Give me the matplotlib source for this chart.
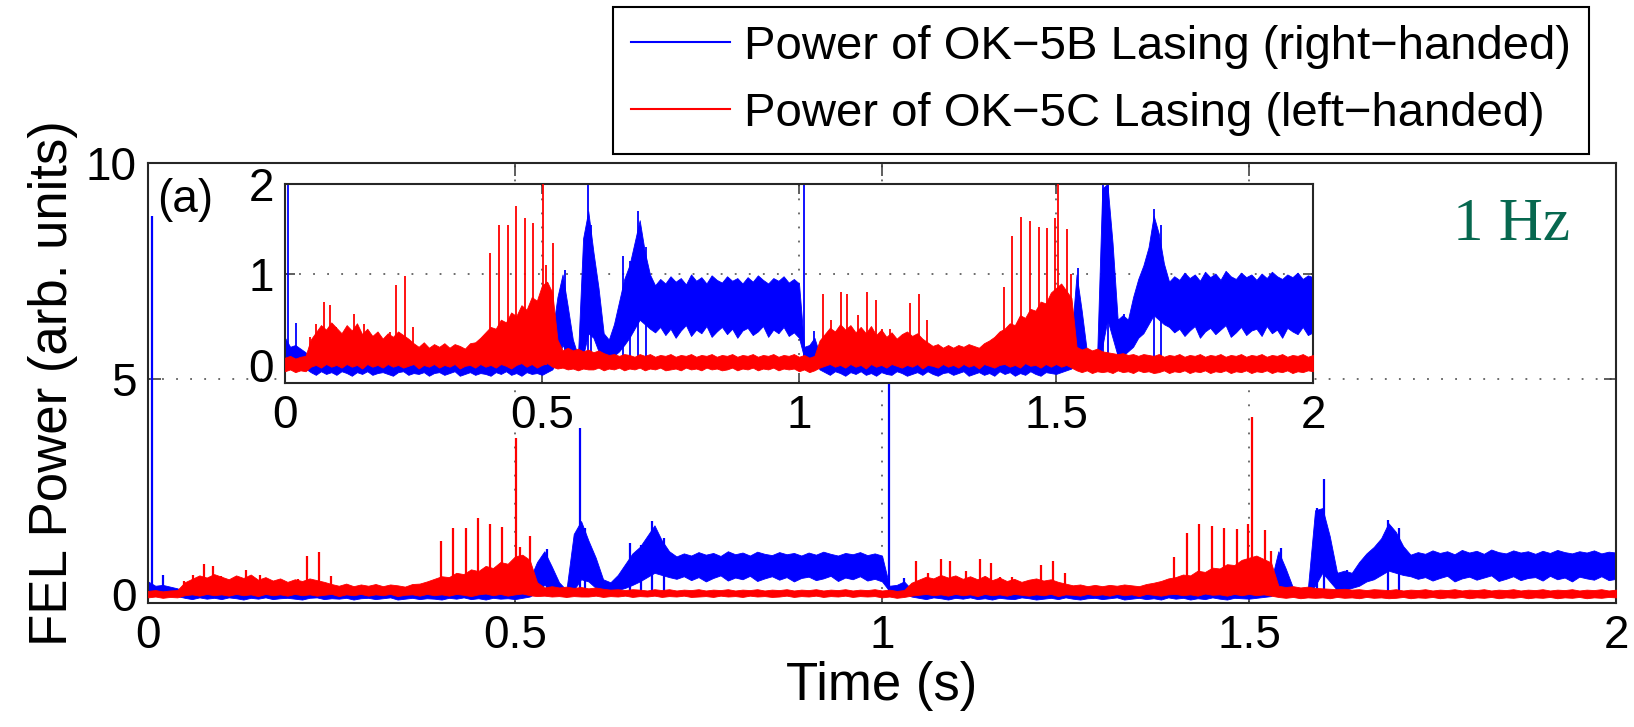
import matplotlib.pyplot as plt
import numpy as np
from matplotlib.lines import Line2D

plt.rcParams["font.family"] = ["Liberation Sans", "DejaVu Sans"]

BLUE = "#0000ff"
RED = "#ff0000"
HZ_GREEN = "#07684f"

# sample grid of the envelopes (s)
TIME = np.round(np.arange(201) * 0.01, 2)

# OK-5B (blue): lower / upper edge of the noisy trace, one value per 10 ms
BLUE_HI = [
    0.30, 0.20, 0.22, 0.18, 0.14, 0.06, 0.04, 0.07, 0.03, 0.05,
    0.04, 0.06, 0.03, 0.05, 0.07, 0.04, 0.02, 0.06, 0.04, 0.05,
    0.03, 0.05, 0.07, 0.04, 0.06, 0.03, 0.05, 0.04, 0.06, 0.03,
    0.05, 0.04, 0.06, 0.03, 0.05, 0.07, 0.04, 0.05, 0.03, 0.06,
    0.05, 0.08, 0.04, 0.10, 0.06, 0.12, 0.05, 0.14, 0.08, 0.12,
    0.10, 0.18, 0.35, 0.75, 1.00, 0.65, 0.28, 0.10, 1.40, 1.70,
    1.25, 0.85, 0.35, 0.28, 0.45, 0.70, 0.95, 1.10, 1.35, 1.60,
    1.25, 1.00, 0.88, 0.95, 0.90, 0.98, 0.92, 0.96, 0.89, 1.00,
    0.93, 0.97, 0.90, 0.99, 0.94, 0.91, 0.98, 0.93, 0.96, 0.90,
    0.97, 0.92, 0.99, 0.94, 0.90, 0.96, 0.93, 0.98, 0.91, 0.95,
    0.90, 0.20, 0.22, 0.30, 0.12, 0.05, 0.03, 0.06, 0.04, 0.05,
    0.03, 0.06, 0.04, 0.05, 0.07, 0.03, 0.05, 0.04, 0.06, 0.03,
    0.05, 0.04, 0.06, 0.03, 0.05, 0.07, 0.04, 0.05, 0.03, 0.06,
    0.04, 0.06, 0.03, 0.05, 0.04, 0.06, 0.05, 0.03, 0.07, 0.05,
    0.06, 0.09, 0.05, 0.11, 0.07, 0.12, 0.06, 0.13, 0.08, 0.12,
    0.10, 0.14, 0.20, 0.30, 1.00, 0.60, 0.15, 0.08, 0.10, 1.95,
    2.00, 1.35, 0.50, 0.55, 0.50, 0.75, 0.95, 1.10, 1.30, 1.65,
    1.45, 1.12, 0.92, 0.98, 0.94, 1.02, 0.96, 1.00, 0.93, 1.03,
    0.97, 1.01, 0.94, 1.04, 0.98, 0.95, 1.02, 0.97, 1.00, 0.94,
    1.01, 0.96, 1.03, 0.98, 0.95, 1.00, 0.97, 1.02, 0.95, 0.99,
    0.97,
]
BLUE_LO = [
    0.05, 0.08, 0.08, 0.06, -0.04, -0.08, -0.11, -0.07, -0.10, -0.08,
    -0.11, -0.07, -0.09, -0.12, -0.08, -0.10, -0.07, -0.11, -0.09, -0.08,
    -0.10, -0.12, -0.08, -0.07, -0.11, -0.09, -0.10, -0.08, -0.12, -0.09,
    -0.08, -0.11, -0.09, -0.07, -0.12, -0.10, -0.08, -0.11, -0.09, -0.10,
    -0.12, -0.08, -0.10, -0.07, -0.11, -0.09, -0.12, -0.08, -0.10, -0.09,
    -0.11, -0.08, -0.05, 0.05, 0.22, 0.12, 0.00, -0.05, 0.10, 0.35,
    0.30, 0.15, 0.05, 0.05, 0.10, 0.15, 0.22, 0.30, 0.40, 0.50,
    0.45, 0.40, 0.36, 0.42, 0.33, 0.40, 0.30, 0.38, 0.44, 0.32,
    0.39, 0.35, 0.43, 0.31, 0.37, 0.42, 0.34, 0.40, 0.30, 0.38,
    0.41, 0.33, 0.37, 0.43, 0.31, 0.39, 0.35, 0.42, 0.32, 0.36,
    0.30, 0.08, 0.07, 0.05, -0.05, -0.08, -0.11, -0.07, -0.09, -0.12,
    -0.08, -0.10, -0.07, -0.11, -0.09, -0.12, -0.08, -0.10, -0.11, -0.07,
    -0.09, -0.12, -0.10, -0.08, -0.11, -0.07, -0.10, -0.12, -0.09, -0.08,
    -0.11, -0.09, -0.07, -0.12, -0.10, -0.08, -0.11, -0.09, -0.12, -0.07,
    -0.10, -0.08, -0.12, -0.09, -0.11, -0.07, -0.10, -0.12, -0.08, -0.09,
    -0.10, -0.08, -0.06, -0.04, 0.10, 0.10, 0.00, -0.05, -0.05, 0.20,
    0.50, 0.30, 0.10, 0.10, 0.15, 0.20, 0.30, 0.35, 0.45, 0.55,
    0.50, 0.45, 0.42, 0.36, 0.40, 0.32, 0.38, 0.43, 0.30, 0.37,
    0.41, 0.34, 0.39, 0.44, 0.31, 0.36, 0.42, 0.33, 0.38, 0.40,
    0.32, 0.43, 0.35, 0.39, 0.30, 0.41, 0.37, 0.34, 0.42, 0.33,
    0.36,
]

# OK-5C (red)
RED_HI = [
    0.08, 0.10, 0.07, 0.09, 0.10, 0.28, 0.36, 0.44, 0.39, 0.47,
    0.41, 0.35, 0.44, 0.38, 0.46, 0.34, 0.40, 0.32, 0.37, 0.29,
    0.35, 0.31, 0.37, 0.33, 0.29, 0.24, 0.20, 0.25, 0.19, 0.23,
    0.20, 0.24, 0.19, 0.23, 0.21, 0.18, 0.24, 0.25, 0.30, 0.36,
    0.42, 0.40, 0.50, 0.47, 0.58, 0.54, 0.66, 0.61, 0.75, 0.71,
    0.88, 0.92, 0.80, 0.28, 0.16, 0.19, 0.16, 0.18, 0.15, 0.17,
    0.14, 0.16, 0.13, 0.11, 0.12, 0.10, 0.12, 0.11, 0.09, 0.12,
    0.10, 0.12, 0.09, 0.11, 0.10, 0.12, 0.09, 0.11, 0.10, 0.12,
    0.09, 0.11, 0.10, 0.12, 0.09, 0.11, 0.10, 0.12, 0.09, 0.11,
    0.10, 0.12, 0.09, 0.11, 0.10, 0.12, 0.09, 0.11, 0.10, 0.12,
    0.09, 0.11, 0.08, 0.10, 0.27, 0.34, 0.41, 0.37, 0.45, 0.39,
    0.44, 0.36, 0.42, 0.35, 0.43, 0.33, 0.39, 0.31, 0.36, 0.29,
    0.34, 0.37, 0.32, 0.35, 0.29, 0.25, 0.21, 0.23, 0.19, 0.22,
    0.19, 0.22, 0.20, 0.23, 0.21, 0.19, 0.24, 0.27, 0.31, 0.37,
    0.40, 0.46, 0.44, 0.55, 0.52, 0.62, 0.60, 0.70, 0.68, 0.80,
    0.85, 0.90, 0.82, 0.74, 0.20, 0.17, 0.19, 0.16, 0.18, 0.15,
    0.14, 0.13, 0.12, 0.13, 0.11, 0.12, 0.10, 0.12, 0.11, 0.10,
    0.12, 0.09, 0.11, 0.10, 0.12, 0.09, 0.11, 0.10, 0.12, 0.09,
    0.11, 0.10, 0.12, 0.09, 0.11, 0.10, 0.12, 0.09, 0.11, 0.10,
    0.12, 0.09, 0.11, 0.10, 0.12, 0.09, 0.11, 0.10, 0.12, 0.09,
    0.11,
]
RED_LO = [
    -0.07, -0.05, -0.08, -0.06, -0.07, -0.02, 0.00, -0.03, 0.01, -0.02,
    0.00, -0.03, 0.01, -0.02, 0.00, -0.04, 0.01, -0.02, 0.00, -0.03,
    0.01, -0.02, 0.00, -0.03, -0.01, 0.01, -0.04, 0.00, -0.02, 0.01,
    -0.03, 0.00, -0.02, 0.01, -0.04, -0.01, 0.00, -0.03, 0.01, -0.02,
    0.00, -0.03, 0.01, -0.01, -0.04, 0.00, 0.02, -0.02, 0.01, -0.03,
    0.00, 0.02, -0.02, -0.04, -0.03, -0.05, -0.04, -0.06, -0.04, -0.05,
    -0.05, -0.03, -0.06, -0.04, -0.05, -0.03, -0.06, -0.04, -0.05, -0.03,
    -0.06, -0.04, -0.05, -0.03, -0.06, -0.05, -0.04, -0.06, -0.03, -0.05,
    -0.04, -0.06, -0.03, -0.05, -0.04, -0.06, -0.05, -0.03, -0.06, -0.04,
    -0.05, -0.03, -0.06, -0.04, -0.05, -0.03, -0.06, -0.04, -0.05, -0.04,
    -0.07, -0.05, -0.08, -0.06, -0.03, -0.01, 0.01, -0.02, 0.00, -0.03,
    0.01, -0.02, 0.00, -0.04, 0.01, -0.02, 0.00, -0.03, 0.01, -0.01,
    -0.03, 0.00, -0.02, 0.01, -0.04, 0.00, -0.01, -0.03, 0.01, -0.02,
    0.00, -0.03, 0.01, -0.02, 0.00, -0.04, 0.01, -0.01, -0.03, 0.00,
    0.01, -0.02, 0.00, -0.03, 0.02, -0.01, 0.00, -0.03, 0.01, -0.02,
    0.01, -0.02, 0.00, -0.03, -0.06, -0.08, -0.06, -0.09, -0.07, -0.08,
    -0.07, -0.09, -0.06, -0.08, -0.07, -0.09, -0.06, -0.08, -0.07, -0.09,
    -0.08, -0.06, -0.09, -0.07, -0.08, -0.06, -0.09, -0.07, -0.08, -0.06,
    -0.09, -0.07, -0.08, -0.06, -0.09, -0.07, -0.08, -0.06, -0.09, -0.07,
    -0.08, -0.06, -0.09, -0.07, -0.08, -0.06, -0.09, -0.07, -0.08, -0.06,
    -0.07,
]

# narrow spikes on top of the envelopes: time (s) and peak power
BLUE_SPIKE_T = [0.005, 0.021, 0.544, 0.589, 0.596, 0.657, 0.672, 0.687, 0.703,
                1.010, 1.030, 1.543, 1.592, 1.602, 1.620, 1.633, 1.690, 1.705]
BLUE_SPIKE_H = [8.76, 0.46, 1.05, 3.85, 1.55, 1.20, 1.15, 1.70, 1.30,
                8.50, 0.38, 1.07, 2.00, 2.67, 0.51, 0.56, 1.72, 1.55]

RED_SPIKE_T = [0.049, 0.061, 0.076, 0.088, 0.100, 0.116, 0.134, 0.153, 0.172,
               0.204, 0.216, 0.233, 0.249, 0.399, 0.416, 0.433, 0.450, 0.466,
               0.482, 0.501, 0.507, 0.521,
               1.047, 1.063, 1.081, 1.093, 1.115, 1.133, 1.149, 1.161, 1.177,
               1.216, 1.233, 1.249, 1.398, 1.415, 1.432, 1.449, 1.466, 1.483,
               1.499, 1.504, 1.522, 1.530]
RED_SPIKE_H = [0.31, 0.45, 0.70, 0.66, 0.42, 0.35, 0.56, 0.45, 0.32,
               0.36, 0.88, 0.98, 0.42, 1.24, 1.55, 1.55, 1.76, 1.62,
               1.57, 3.62, 1.10, 1.35,
               0.78, 0.50, 0.81, 0.78, 0.55, 0.81, 0.72, 0.40, 0.40,
               0.68, 0.78, 0.50, 0.86, 1.43, 1.64, 1.59, 1.53, 1.51,
               1.62, 4.12, 1.50, 1.00]

LABELS = ["Power of OK\u22125B Lasing (right\u2212handed)",
          "Power of OK\u22125C Lasing (left\u2212handed)"]

X_TICKS = [0, 0.5, 1, 1.5, 2]
X_TICKLABELS = ["0", "0.5", "1", "1.5", "2"]
MAIN_Y_TICKS = [0, 5, 10]
INSET_Y_TICKS = [0, 1, 2]

W, H = 1634, 727


def dibujar_series(ax, lw_spike):
    ax.fill_between(TIME, BLUE_LO, BLUE_HI, color=BLUE, lw=0.6, zorder=2)
    ax.vlines(BLUE_SPIKE_T, 0, BLUE_SPIKE_H, color=BLUE, lw=lw_spike, zorder=2)
    ax.fill_between(TIME, RED_LO, RED_HI, color=RED, lw=0.6, zorder=3)
    ax.vlines(RED_SPIKE_T, 0, RED_SPIKE_H, color=RED, lw=lw_spike, zorder=3)


def estilo_ejes(ax, yticks, tick_len):
    ax.set_xlim(0, 2)
    ax.set_xticks(X_TICKS)
    ax.set_xticklabels(X_TICKLABELS)
    ax.set_yticks(yticks)
    ax.set_yticklabels([str(v) for v in yticks])
    ax.tick_params(direction="in", top=True, right=True, length=tick_len,
                   width=1.1, labelsize=33, color="#333333", pad=8)
    ax.grid(True, linestyle=(0, (1.2, 8)), color="#444444", lw=1.1)
    ax.set_axisbelow(True)
    for s in ax.spines.values():
        s.set_linewidth(1.5)
        s.set_color("#262626")


def main():
    fig = plt.figure(figsize=(W / 100, H / 100), dpi=100)

    ax = fig.add_axes([148 / W, 1 - 603 / H, 1468 / W, 440 / H])
    dibujar_series(ax, 1.6)
    estilo_ejes(ax, MAIN_Y_TICKS, 9)
    ax.set_ylim(-0.2, 10)
    ax.set_xlabel("Time (s)", fontsize=38, labelpad=2)
    ax.set_ylabel("FEL Power (arb. units)", fontsize=38, labelpad=6)
    ax.text(0.006, 0.965, "(a)", transform=ax.transAxes, fontsize=33,
            ha="left", va="top")
    ax.text(0.969, 0.825, "1 Hz", transform=ax.transAxes, fontsize=44,
            ha="right", va="baseline", color=HZ_GREEN,
            family=["Liberation Serif", "DejaVu Serif"])

    ins = fig.add_axes([285 / W, 1 - 383 / H, 1028 / W, 199 / H])
    ins.set_facecolor("white")
    dibujar_series(ins, 1.3)
    estilo_ejes(ins, INSET_Y_TICKS, 7)
    ins.set_ylim(-0.2, 2)

    handles = [Line2D([], [], color=BLUE, lw=1.5), Line2D([], [], color=RED, lw=1.5)]
    leg = fig.legend(handles, LABELS, loc="upper right",
                     bbox_to_anchor=(1589 / W, 1 - 7 / H), fontsize=34,
                     frameon=True, fancybox=False, edgecolor="black",
                     framealpha=1, handlelength=2.1, handletextpad=0.3,
                     borderpad=0.38, labelspacing=0.48, borderaxespad=0)
    leg.get_frame().set_linewidth(1.5)

    fig.savefig("out.png", dpi=100)


if __name__ == "__main__":
    main()
